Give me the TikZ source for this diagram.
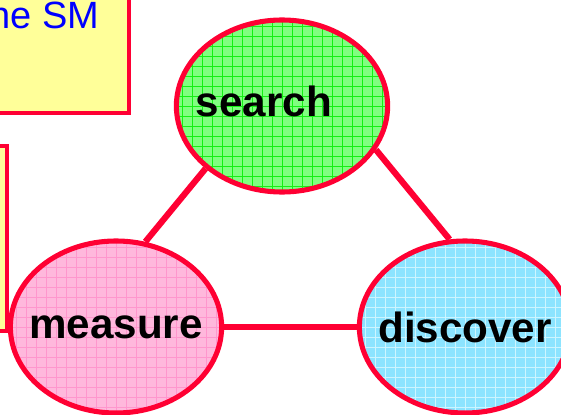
\documentclass[tikz,border=0pt]{standalone}
\usepackage{fontspec}
\setmainfont{Liberation Sans}
\usetikzlibrary{shapes.geometric}
\definecolor{bordred}{RGB}{255,0,51}
\definecolor{boxyellow}{RGB}{255,255,153}
\definecolor{textblue}{RGB}{0,0,255}
\definecolor{fillgreen}{RGB}{128,255,128}
\definecolor{gridgreen}{RGB}{20,240,20}
\definecolor{fillpink}{RGB}{255,184,220}
\definecolor{gridpink}{RGB}{255,150,205}
\definecolor{fillcyan}{RGB}{140,228,255}
\definecolor{gridcyan}{RGB}{205,245,255}
\tikzset{
    EL/.style 2 args ={ellipse, draw=bordred, line width=3.6pt, fill=#1,
        minimum width=5.28cm, minimum height=4.3cm, inner sep=0pt,
        path picture={\draw[#2, line width=0.5pt]
            ([xshift=-1cm,yshift=-1cm]path picture bounding box.south west) grid[step=0.25cm]
            ([xshift=1cm,yshift=1cm]path picture bounding box.north east);}},
    TX/.style ={font=\fontsize{30}{36}\selectfont\bfseries},
    BX/.style ={draw=bordred, line width=2.2pt, fill=boxyellow},
    LN/.style ={draw=bordred, line width=4.4pt}}

\begin{document}
\begin{tikzpicture}[x=0.025cm, y=-0.025cm]
        \useasboundingbox (0,0) rectangle (561,415);
        \clip (0,0) rectangle (561,415);
        \draw[BX] (-20,-20) rectangle (129,113);
        \draw[BX] (-20,146) rectangle (7,331);
        \node[anchor=base east, text=textblue, font=\fontsize{27}{32}\selectfont] (sm) at (104,28) {he SM};
        \node[EL={fillgreen}{gridgreen},
              label={[name=searchtext, TX, xshift=-0.45cm, yshift=0.11cm]center:search}] (search) at (282,106) {};
        \node[EL={fillpink}{gridpink},
              label={[name=measuretext, TX]center:measure}] (measure) at (116,327) {};
        \node[EL={fillcyan}{gridcyan},
              label={[name=discovertext, TX]center:discover}] (discover) at (465,327) {};
        \draw[LN] (search.south west) -- (measure.71);
        \draw[LN] (search.-25) -- (discover.100);
        \draw[LN] (measure.east) -- (discover.west);
    \end{tikzpicture}
\end{document}
